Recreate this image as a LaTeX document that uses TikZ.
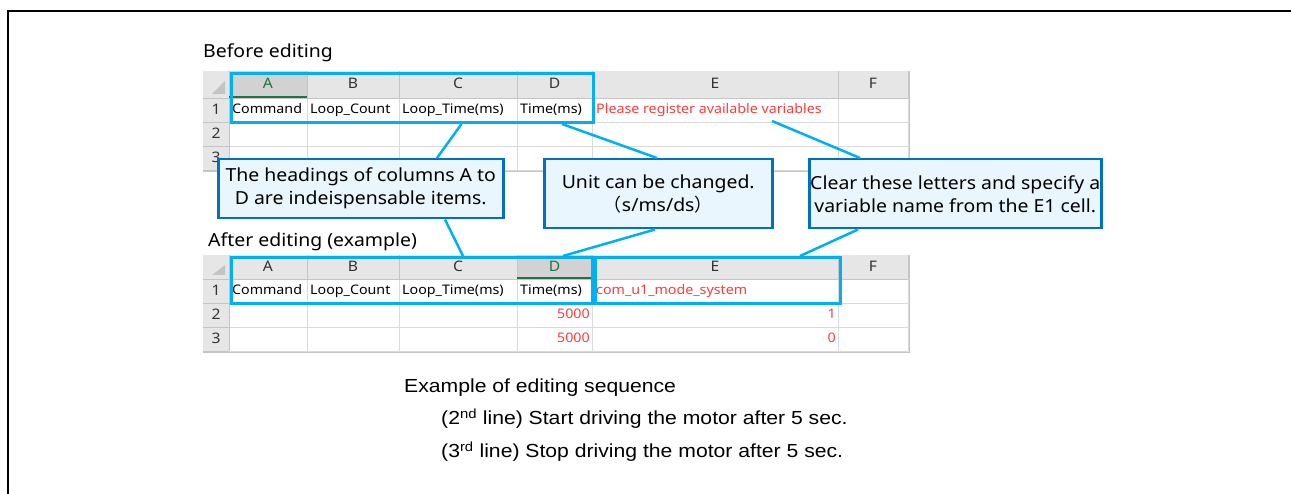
\documentclass[tikz,border=0pt]{standalone}
\usepackage{fontspec}
\setmainfont{Noto Sans}[FakeStretch=1.08]
\newfontfamily\arialf{Liberation Sans}[FakeStretch=1.12]
\newfontfamily\cjkf{Noto Sans CJK JP}
\usetikzlibrary{calc}
\definecolor{hlcyan}{HTML}{00B0F0}
\definecolor{cobrd}{HTML}{0070C0}
\definecolor{cofill}{HTML}{EAF6FD}
\definecolor{hdrfill}{HTML}{E6E6E6}
\definecolor{hdrsel}{HTML}{D2D2D2}
\definecolor{gridc}{HTML}{DADADA}
\definecolor{hdrline}{HTML}{C4C4C4}
\definecolor{xlgreen}{HTML}{217346}
\definecolor{redtxt}{HTML}{FF3B3B}
\newcommand\xlgrid[7]{%
  \fill[hdrfill] (203,#1) rectangle (908,#2);
  \fill[hdrfill] (203,#2) rectangle (229,#5);
  \fill[hdrsel] (#6,#1) rectangle (#7,#2);
  \fill[white] (229,#2) rectangle (908,#5);
  \foreach \x in {307,399,517,592,838,908} \draw[gridc] (\x,#2) -- (\x,#5);
  \foreach \y in {#3,#4,#5} \draw[gridc] (229,\y) -- (908,\y);
  \foreach \x in {229,307,399,517,592,838,908} \draw[hdrline] (\x,#1) -- (\x,#2);
  \draw[hdrline] (203,#2) -- (908,#2);
  \foreach \y in {#3,#4,#5} \draw[hdrline] (203,\y) -- (229,\y);
  \draw[hdrline] (229,#2) -- (229,#5);
  \draw[hdrline] (909.5,#1) -- (909.5,#5+1) -- (203,#5+1);
  \draw[xlgreen,line width=1.5pt] (#6,#2-1) -- (#7,#2-1);
  \fill[hdrline] (212,#2-4) -- (225,#2-4) -- (225,#1+10) -- cycle;
}
\tikzset{
  cell/.style={inner sep=0pt, font=\fontsize{13.2}{15}\selectfont, text height=9.5pt, text depth=1.5pt},
  redcell/.style={cell, text=redtxt},
  hdr/.style={inner sep=0pt, font=\fontsize{14.5}{16}\selectfont, text=black!80, text height=10.5pt, text depth=1.5pt},
  hdrs/.style={hdr, text=xlgreen},
  hlbox/.style={draw=hlcyan, line width=3pt, inner sep=0pt, anchor=north west},
  callout/.style={draw=cobrd, fill=cofill, line width=2.5pt, inner sep=0pt, anchor=north west,
    align=center, font=\fontsize{18}{23}\selectfont},
  leader/.style={draw=hlcyan, line width=2.5pt},
  lbl/.style={inner sep=0pt, anchor=base west, font=\fontsize{18}{22}\selectfont},
  btxt/.style={inner sep=0pt, anchor=base west, font=\arialf\fontsize{18.9}{22}\selectfont},
}
\begin{document}
\begin{tikzpicture}[x=1pt,y=-1pt]
\useasboundingbox (0,0) rectangle (1291,494);
\fill[white] (0,0) rectangle (1291,494);
\draw[line width=2pt] (8,494) -- (8,11) -- (1291,11);

% ---------- Before editing ----------
\node[lbl] (bef) at (203,58) {Before editing};
\xlgrid{71}{98}{122}{146}{170}{229}{307}
\node[hdrs] (t1A) at (268,84.5) {A};
\node[hdr] (t1B) at (353,84.5) {B};
\node[hdr] (t1C) at (458,84.5) {C};
\node[hdr] (t1D) at (554.5,84.5) {D};
\node[hdr] (t1E) at (715,84.5) {E};
\node[hdr] (t1F) at (873,84.5) {F};
\node[hdr] (t1r1) at (216,110) {1};
\node[hdr] (t1r2) at (216,134) {2};
\node[hdr] (t1r3) at (216,158) {3};
\node[cell,anchor=west] (t1a1) at (232,110) {Command};
\node[cell,anchor=west] (t1b1) at (310,110) {Loop\_Count};
\node[cell,anchor=west] (t1c1) at (402,110) {Loop\_Time(ms)};
\node[cell,anchor=west] (t1d1) at (520,110) {Time(ms)};
\node[redcell,anchor=west] (t1e1) at (596,110) {Please register available variables};
\node[hlbox, minimum width=362, minimum height=48.5] (hl1) at (229.5,72.5) {};

% ---------- After editing ----------
\node[lbl] (aft) at (208,247) {After editing (example)};
\xlgrid{255}{279}{303}{327}{351}{517}{592}
\node[hdr] (t2A) at (268,267) {A};
\node[hdr] (t2B) at (353,267) {B};
\node[hdr] (t2C) at (458,267) {C};
\node[hdrs] (t2D) at (554.5,267) {D};
\node[hdr] (t2E) at (715,267) {E};
\node[hdr] (t2F) at (873,267) {F};
\node[hdr] (t2r1) at (216,291) {1};
\node[hdr] (t2r2) at (216,315) {2};
\node[hdr] (t2r3) at (216,339) {3};
\node[cell,anchor=west] (t2a1) at (232,291) {Command};
\node[cell,anchor=west] (t2b1) at (310,291) {Loop\_Count};
\node[cell,anchor=west] (t2c1) at (402,291) {Loop\_Time(ms)};
\node[cell,anchor=west] (t2d1) at (520,291) {Time(ms)};
\node[redcell,anchor=west] (t2e1) at (596,291) {com\_u1\_mode\_system};
\node[redcell,anchor=east] (t2d2) at (590,315) {5000};
\node[redcell,anchor=east] (t2e2) at (836,315) {1};
\node[redcell,anchor=east] (t2d3) at (590,339) {5000};
\node[redcell,anchor=east] (t2e3) at (836,339) {0};
\node[hlbox, minimum width=361, minimum height=46.5] (hl2) at (229.5,256) {};
\node[hlbox, minimum width=245.5, minimum height=46.5] (hl3) at (593.5,256) {};

% ---------- Callouts ----------
\node[callout, minimum width=285, minimum height=59] (c1) at (217,158)
  {The headings of columns A to\\D are indeispensable items.};
\node[callout, minimum width=228, minimum height=69] (c2) at (543,158)
  {Unit can be changed.\\{\cjkf （}s/ms/ds{\cjkf ）}};
\node[callout, minimum width=292, minimum height=69] (c3) at (808,158)
  {Clear these letters and specify a\\variable name from the E1 cell.};

\coordinate (e1top) at (772,121);
\draw[leader] ($(hl1.south west)+(232,0)$) -- ($(c1.north west)+(220,0)$);
\draw[leader] ($(c1.south west)+(228,0)$) -- ($(hl2.north west)+(233.5,0)$);
\draw[leader] ($(hl1.south west)+(332.5,0)$) -- ($(c2.north west)+(114,0)$);
\draw[leader] ($(c2.south west)+(112,0)$) -- ($(hl2.north west)+(333.5,0)$);
\draw[leader] (e1top) -- ($(c3.north west)+(52,0)$);
\draw[leader] ($(c3.south west)+(50,0)$) -- ($(hl3.north west)+(206.5,0)$);

% ---------- Bottom text ----------
\node[btxt] (ex) at (404,392.5) {Example of editing sequence};
\node[btxt] (ln2) at (441,424.5) {(2\textsuperscript{nd} line) Start driving the motor after 5 sec.};
\node[btxt] (ln3) at (441,457.5) {(3\textsuperscript{rd} line) Stop driving the motor after 5 sec.};
\end{tikzpicture}
\end{document}
